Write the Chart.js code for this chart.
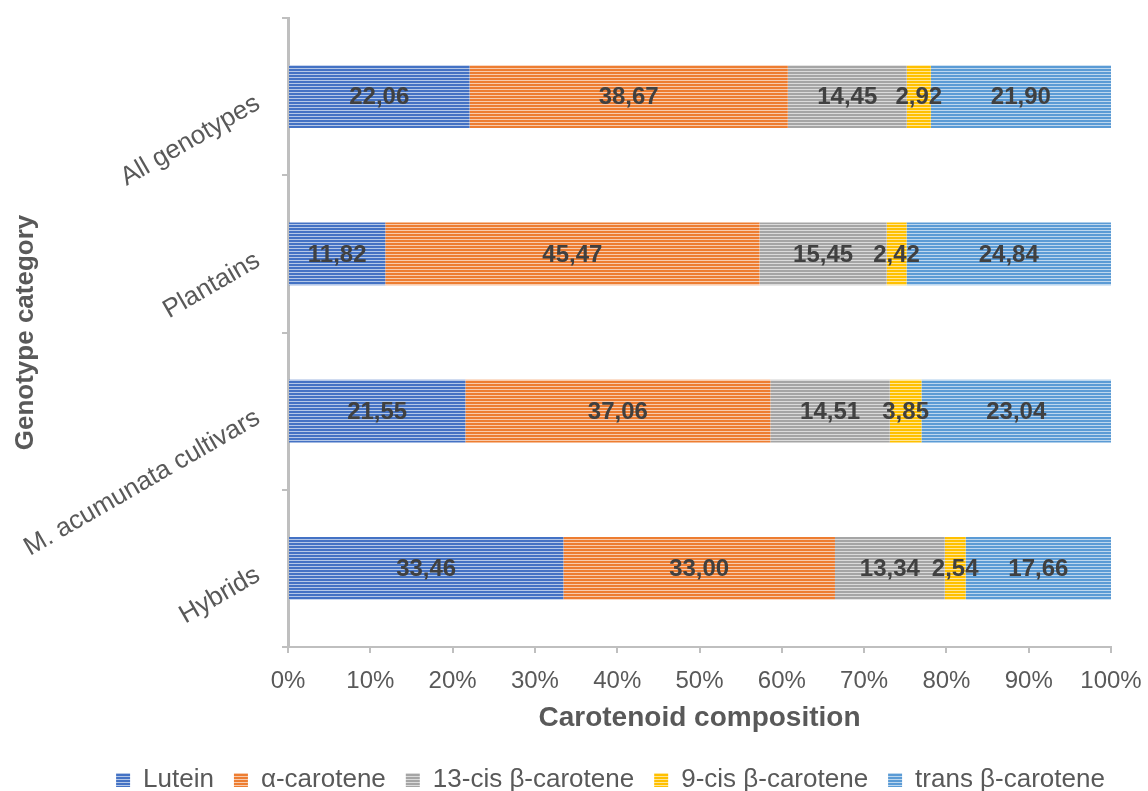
<!DOCTYPE html>
<html>
<head>
<meta charset="utf-8">
<script src="https://cdn.jsdelivr.net/npm/chart.js@4.4.1/dist/chart.umd.min.js"></script>
<style>
  html, body { margin: 0; padding: 0; background: #fff; }
  #wrap { width: 1148px; height: 791px; }
</style>
</head>
<body>
<div id="wrap"><canvas id="chart" width="1148" height="791"></canvas></div>
<script>
// categories, top to bottom
const categories = ['All genotypes', 'Plantains', 'M. acumunata cultivars', 'Hybrids'];
const seriesNames = ['Lutein', 'α-carotene', '13-cis β-carotene', '9-cis β-carotene', 'trans β-carotene'];
const lutein = [22.06, 11.82, 21.55, 33.46];
const alphaCarotene = [38.67, 45.47, 37.06, 33.00];
const cis13 = [14.45, 15.45, 14.51, 13.34];
const cis9 = [2.92, 2.42, 3.85, 2.54];
const transBeta = [21.90, 24.84, 23.04, 17.66];
const xTicks = [0, 10, 20, 30, 40, 50, 60, 70, 80, 90, 100];
const colors = ['#4472C4', '#ED7D31', '#A5A5A5', '#FFC000', '#5B9BD5'];

// horizontal striped fill like the office pattern fill
function stripes(hex) {
  const c = document.createElement('canvas');
  c.width = 4; c.height = 3;
  const g = c.getContext('2d');
  g.fillStyle = hex;
  g.fillRect(0, 0, 4, 3);
  const r = parseInt(hex.slice(1, 3), 16), gr = parseInt(hex.slice(3, 5), 16), b = parseInt(hex.slice(5, 7), 16);
  const mix = v => Math.round(v + (255 - v) * 0.6);
  g.fillStyle = `rgb(${mix(r)},${mix(gr)},${mix(b)})`;
  g.fillRect(0, 2, 4, 1);
  return g.createPattern(c, 'repeat');
}

const allValues = [lutein, alphaCarotene, cis13, cis9, transBeta];

// draws the value in the middle of each segment
const segmentLabels = {
  id: 'segmentLabels',
  afterDatasetsDraw(chart) {
    const ctx = chart.ctx;
    ctx.save();
    ctx.font = 'bold 24px "Liberation Sans", Arial, sans-serif';
    ctx.fillStyle = '#404040';
    ctx.textAlign = 'center';
    ctx.textBaseline = 'middle';
    chart.data.datasets.forEach((ds, i) => {
      chart.getDatasetMeta(i).data.forEach((bar, j) => {
        const txt = ds.data[j].toFixed(2).replace('.', ',');
        ctx.fillText(txt, (bar.x + bar.base) / 2, bar.y + 1);
      });
    });
    ctx.restore();
  }
};

// nudge the legend to where it sits in the original
const legendShift = {
  id: 'legendShift',
  afterLayout(chart) {
    const lg = chart.legend;
    if (!lg) return;
    lg.left += 55; lg.right += 55;
    lg.top += 12; lg.bottom += 12;
  }
};

Chart.defaults.font.family = '"Liberation Sans", Arial, sans-serif';
Chart.defaults.color = '#595959';

new Chart(document.getElementById('chart'), {
  type: 'bar',
  data: {
    labels: categories,
    datasets: seriesNames.map((name, i) => ({
      label: name,
      data: allValues[i],
      backgroundColor: stripes(colors[i]),
      borderWidth: 0,
      categoryPercentage: 0.8,
      barPercentage: 0.5
    }))
  },
  options: {
    indexAxis: 'y',
    responsive: false,
    animation: false,
    layout: { padding: { top: 18, right: 37, left: 0, bottom: 0 } },
    scales: {
      x: {
        stacked: true,
        min: 0,
        max: 100,
        afterBuildTicks: scale => { scale.ticks = xTicks.map(v => ({ value: v })); },
        afterFit: scale => { scale.height = 88; scale.paddingLeft = 0; scale.paddingRight = 0; },
        ticks: { callback: v => v + '%', font: { size: 24 }, color: '#595959', padding: 14, maxRotation: 0 },
        grid: { drawOnChartArea: false, drawTicks: true, tickLength: 6, color: '#bfbfbf', lineWidth: 2 },
        border: { color: '#bfbfbf', width: 2 },
        title: { display: true, text: 'Carotenoid composition', font: { size: 28, weight: 'bold' }, color: '#595959', padding: { top: 0, bottom: 0 } }
      },
      y: {
        stacked: true,
        afterFit: scale => { scale.width = 288; scale.paddingTop = 0; scale.paddingBottom = 0; },
        ticks: { font: { size: 26 }, color: '#595959', padding: 24, labelOffset: 5, minRotation: 30, maxRotation: 30 },
        grid: { offset: true, drawOnChartArea: false, drawTicks: true, tickLength: 6, color: '#bfbfbf', lineWidth: 2 },
        border: { color: '#bfbfbf', width: 3 },
        title: { display: true, text: 'Genotype category', font: { size: 26, weight: 'bold' }, color: '#595959', padding: { top: 10, bottom: 0 } }
      }
    },
    plugins: {
      legend: {
        position: 'bottom',
        labels: { boxWidth: 14, boxHeight: 14, font: { size: 26 }, color: '#595959', padding: 20 }
      },
      tooltip: { enabled: false }
    }
  },
  plugins: [segmentLabels, legendShift]
});
</script>
</body>
</html>
